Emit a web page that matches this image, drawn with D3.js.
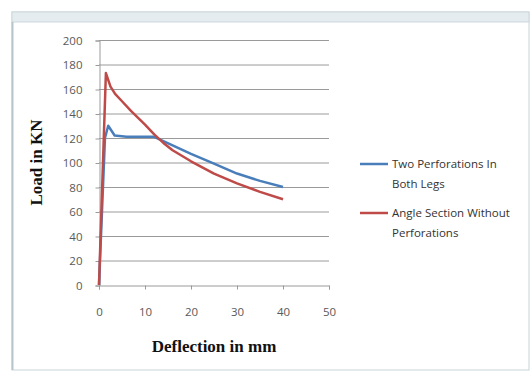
<!DOCTYPE html>
<html lang="en">
<head>
<meta charset="UTF-8">
<title>Load vs Deflection</title>
<script src="https://d3js.org/d3.v7.min.js"></script>
<style>
  body { margin: 0; background: #fff; }
  .tick text { font-family: "Open Sans", sans-serif; font-size: 11.5px; fill: #595959; }
  .title { font-family: "Liberation Serif", serif; font-weight: bold; font-size: 17px; fill: #111; }
  .legend text { font-family: "Open Sans", sans-serif; font-size: 11.5px; fill: #333; }
</style>
</head>
<body>
<svg width="531" height="372"></svg>
<script>
// data
var blueX = [0, 1.3, 2, 3.4, 6, 12, 16, 20, 25, 30, 35, 40];
var blueY = [0, 120, 130, 122, 121, 121, 114, 107, 99, 91, 85, 80];
var redX = [0, 1.5, 2.5, 3.5, 5, 7, 10, 12, 14, 16, 20, 25, 30, 35, 40];
var redY = [0, 173, 162, 156, 150, 142, 131, 123, 116, 110, 101, 91, 83, 76, 70];
var seriesNames = [["Two Perforations In", "Both Legs"], ["Angle Section Without", "Perforations"]];
var colors = ["#4a7ebb", "#be4b48"];
var xTicks = [0, 10, 20, 30, 40, 50];
var yTicks = [0, 20, 40, 60, 80, 100, 120, 140, 160, 180, 200];

var svg = d3.select("svg");

// outer frame like the spreadsheet chart window
svg.append("rect").attr("x", 12).attr("y", 12).attr("width", 517).attr("height", 358)
   .attr("fill", "#fff").attr("stroke", "#c9d4d8");
svg.append("rect").attr("x", 12).attr("y", 12).attr("width", 517).attr("height", 10)
   .attr("fill", "#e4ecef").attr("stroke", "#cdd8dc");
svg.append("line").attr("x1", 12.5).attr("x2", 12.5).attr("y1", 22).attr("y2", 370)
   .attr("stroke", "#b8c6cb").attr("stroke-width", 2);

var x = d3.scaleLinear().domain([0, 50]).range([99, 329]);
var y = d3.scaleLinear().domain([0, 200]).range([285, 40]);

// gridlines
svg.append("g").selectAll("line").data(yTicks.slice(1)).enter().append("line")
   .attr("x1", x(0)).attr("x2", x(50))
   .attr("y1", function(d) { return y(d) + 0.5; }).attr("y2", function(d) { return y(d) + 0.5; })
   .attr("stroke", "#9a9a9a").attr("stroke-width", 1);

var yAxis = svg.append("g").attr("transform", "translate(" + (x(0) + 0.5) + ",0.5)")
   .call(d3.axisLeft(y).tickValues(yTicks).tickSize(4).tickPadding(13));
var xAxis = svg.append("g").attr("transform", "translate(0," + (y(0) + 0.5) + ")")
   .call(d3.axisBottom(x).tickValues(xTicks).tickSize(4).tickPadding(18));
[yAxis, xAxis].forEach(function(a) {
  a.select(".domain").attr("stroke", "#9a9a9a");
  a.selectAll(".tick line").attr("stroke", "#9a9a9a");
});

var line = d3.line()
   .x(function(d) { return x(d[0]); })
   .y(function(d) { return y(d[1]); });

var blue = d3.zip(blueX, blueY), red = d3.zip(redX, redY);
[blue, red].forEach(function(s, i) {
  svg.append("path").datum(s).attr("d", line)
     .attr("fill", "none").attr("stroke", colors[i])
     .attr("stroke-width", 2.5).attr("stroke-linejoin", "round");
});

// legend
var lg = svg.append("g").attr("class", "legend");
[164, 213].forEach(function(ly, i) {
  lg.append("line").attr("x1", 360).attr("x2", 388).attr("y1", ly).attr("y2", ly)
    .attr("stroke", colors[i]).attr("stroke-width", 2.5);
  seriesNames[i].forEach(function(t, j) {
    lg.append("text").attr("x", 392).attr("y", ly + 4 + j * 20).text(t);
  });
});

svg.append("text").attr("class", "title")
   .attr("transform", "translate(42," + y(100) + ") rotate(-90)")
   .attr("text-anchor", "middle").text("Load in KN");
svg.append("text").attr("class", "title")
   .attr("x", 214).attr("y", 352).attr("text-anchor", "middle").text("Deflection in mm");
</script>
</body>
</html>
